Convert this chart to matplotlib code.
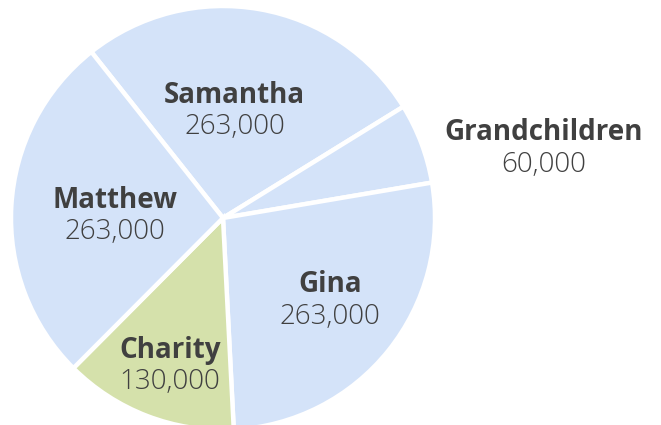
import numpy as np
import matplotlib
matplotlib.use("Agg")
import matplotlib.pyplot as plt

names = ["Samantha", "Grandchildren", "Gina", "Charity", "Matthew"]
amounts = [263000, 60000, 263000, 130000, 263000]
colors = ["#d4e3f9", "#d4e3f9", "#d4e3f9", "#d5e1ab", "#d4e3f9"]
# how far out each label sits, as a fraction of the radius
label_dist = [0.52, 1.55, 0.63, 0.73, 0.51]
label_shift = [4, 8, 2, 1, 1]  # small angular nudges (deg)

plt.rcParams["font.family"] = ["Open Sans", "DejaVu Sans"]
text_col = "#404040"

fig = plt.figure(figsize=(6.61, 4.25), dpi=100)
W, H = 661, 425
cx, cy, r = 223, 218, 212
ax = fig.add_axes([(cx - r) / W, (H - cy - r) / H, 2 * r / W, 2 * r / H])

start = 128.4
wedges, _ = ax.pie(amounts, colors=colors, startangle=start, counterclock=False,
                   radius=1.0, wedgeprops=dict(edgecolor="white", linewidth=3.2))
for w in wedges:
    w.set_clip_on(False)
ax.set_xlim(-1, 1)
ax.set_ylim(-1, 1)
ax.axis("off")

for w, name, val, d, sh in zip(wedges, names, amounts, label_dist, label_shift):
    mid = np.deg2rad((w.theta1 + w.theta2) / 2 + sh * (1 if d < 1 else -1))
    x, y = d * np.cos(mid), d * np.sin(mid)
    ax.annotate(name, (x, y), xytext=(0, 4), textcoords="offset points",
                ha="center", va="baseline", fontsize=20, fontweight="bold",
                color=text_col, annotation_clip=False)
    ax.annotate(f"{val:,}", (x, y), xytext=(0, -18.5), textcoords="offset points",
                ha="center", va="baseline", fontsize=20, fontweight="light",
                color=text_col, annotation_clip=False)

fig.savefig("out.png", dpi=100)
